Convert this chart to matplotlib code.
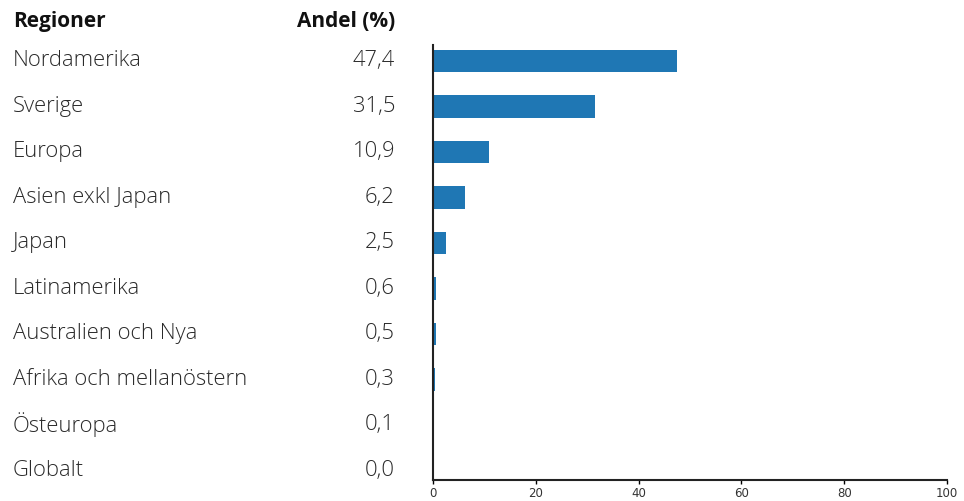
import matplotlib.pyplot as plt
from matplotlib.transforms import blended_transform_factory

regions = ["Nordamerika", "Sverige", "Europa", "Asien exkl Japan", "Japan",
           "Latinamerika", "Australien och Nya", "Afrika och mellanöstern",
           "Östeuropa", "Globalt"]
shares = [47.4, 31.5, 10.9, 6.2, 2.5, 0.6, 0.5, 0.3, 0.1, 0.0]
share_labels = ["47,4", "31,5", "10,9", "6,2", "2,5", "0,6", "0,5", "0,3", "0,1", "0,0"]
xticks = [0, 20, 40, 60, 80, 100]

plt.rcParams['font.family'] = ['Open Sans', 'DejaVu Sans']

fig = plt.figure(figsize=(9.64, 5.01), dpi=100)
ax = fig.add_axes([0.4492, 0.0419, 0.5332, 0.8683])

pos = list(range(len(regions)))
ax.barh(pos, shares, height=0.5, color='#1f77b4')

ax.set_xlim(0, 100)
ax.set_ylim(9.21, -0.35)
ax.set_xticks(xticks)
ax.set_xticklabels([str(t) for t in xticks], family=['Liberation Sans Narrow', 'DejaVu Sans'],
                   fontsize=8.5, color='#333333')
ax.set_yticks([])
ax.tick_params(axis='x', length=3, width=1, pad=2)
for s in ['top', 'right']:
    ax.spines[s].set_visible(False)
for s in ['left', 'bottom']:
    ax.spines[s].set_linewidth(1.5)
    ax.spines[s].set_color('#222222')

tr = blended_transform_factory(fig.transFigure, ax.transData)
for i, (name, lab) in enumerate(zip(regions, share_labels)):
    ax.text(13 / 964, i, name, transform=tr, fontsize=15.8, fontweight='light',
            color='#2a2a2a', va='center', ha='left', clip_on=False)
    ax.text(395 / 964, i, lab, transform=tr, fontsize=15.8, fontweight='light',
            color='#2a2a2a', va='center', ha='right', clip_on=False)

ax.text(13 / 964, -0.86, "Regioner", transform=tr, fontsize=15, fontweight='bold',
        color='#111111', va='center', ha='left', clip_on=False)
ax.text(395 / 964, -0.86, "Andel (%)", transform=tr, fontsize=15, fontweight='bold',
        color='#111111', va='center', ha='right', clip_on=False)

fig.savefig("out.png", dpi=100)
